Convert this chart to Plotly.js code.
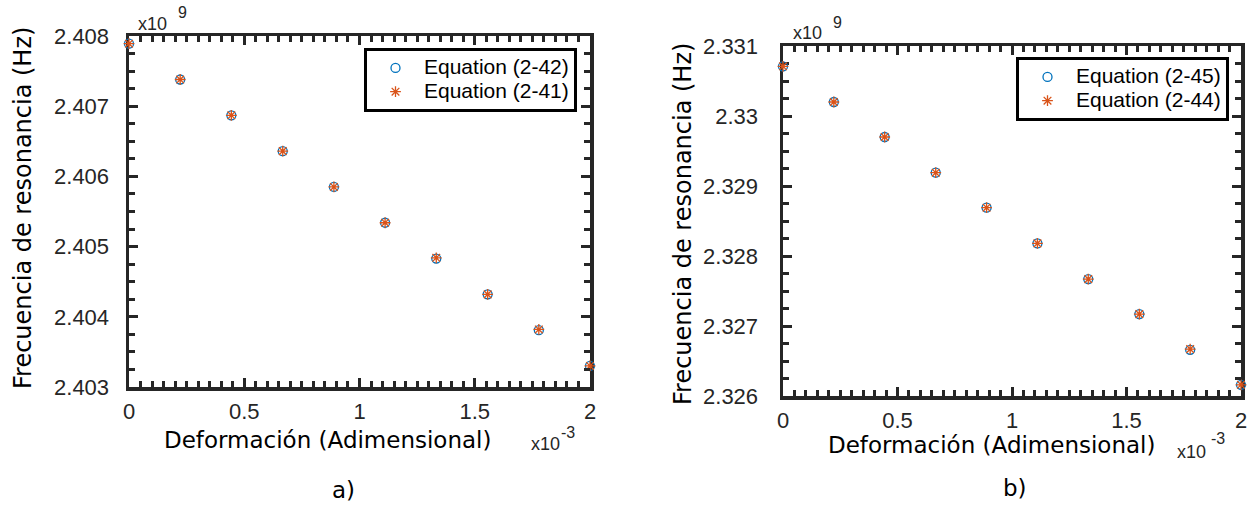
<!DOCTYPE html>
<html>
<head>
<meta charset="utf-8">
<script src="https://cdn.plot.ly/plotly-3.0.1.min.js"></script>
<style>html,body{margin:0;padding:0;background:#fff;}#chart{width:1248px;height:506px;}</style>
</head>
<body>
<div id="chart"></div>
<script>
// Strain (dimensionless) — same for both panels
const strain = [0, 0.000222, 0.000444, 0.000667, 0.000889, 0.001111, 0.001333, 0.001556, 0.001778, 0.002];
// Panel a) resonance frequency (Hz)
const freqA_242 = [2.40789e9, 2.40738e9, 2.40687e9, 2.40636e9, 2.40585e9, 2.40534e9, 2.40483e9, 2.40432e9, 2.40381e9, 2.40330e9];
const freqA_241 = [2.40789e9, 2.40738e9, 2.40687e9, 2.40636e9, 2.40585e9, 2.40534e9, 2.40484e9, 2.40432e9, 2.40382e9, 2.40330e9];
// Panel b) resonance frequency (Hz)
const freqB_245 = [2.33071e9, 2.33020e9, 2.32970e9, 2.32919e9, 2.32869e9, 2.32818e9, 2.32767e9, 2.32717e9, 2.32666e9, 2.32616e9];
const freqB_244 = [2.33071e9, 2.33020e9, 2.32970e9, 2.32919e9, 2.32869e9, 2.32818e9, 2.32767e9, 2.32717e9, 2.32667e9, 2.32616e9];
// Tick labels
const xTickVals = [0, 0.0005, 0.001, 0.0015, 0.002];
const xTickText = ['0', '0.5', '1', '1.5', '2'];
const yTickValsA = [2.403e9, 2.404e9, 2.405e9, 2.406e9, 2.407e9, 2.408e9];
const yTickTextA = ['2.403', '2.404', '2.405', '2.406', '2.407', '2.408'];
const yTickValsB = [2.326e9, 2.327e9, 2.328e9, 2.329e9, 2.33e9, 2.331e9];
const yTickTextB = ['2.326', '2.327', '2.328', '2.329', '2.33', '2.331'];
const legendNames = ['Equation (2-42)', 'Equation (2-41)', 'Equation (2-45)', 'Equation (2-44)'];

const W = 1248, H = 506;
const BLUE = '#0072BD', ORANGE = '#D95319', FRAME = '#262626';
const px = v => v / W, py = v => 1 - v / H;
const legText = s => '<span style="font-size:21px">' + s + '</span>';

function circ(x, y, name, xa, ya, leg) {
  return {x, y, name: legText(name), xaxis: xa, yaxis: ya, legend: leg, type: 'scatter', mode: 'markers', cliponaxis: false,
    marker: {symbol: 'circle-open', size: 9, color: BLUE, line: {color: BLUE, width: 1.3}}};
}
function star(x, y, name, xa, ya, leg) {
  return {x, y, name: legText(name), xaxis: xa, yaxis: ya, legend: leg, type: 'scatter', mode: 'markers', cliponaxis: false,
    marker: {symbol: 'asterisk-open', size: 9, color: ORANGE, line: {color: ORANGE, width: 1.3}}};
}
// empty helper traces so the mirrored tick axes (top / right) get drawn
function holder(xa, ya) {
  return {x: [], y: [], xaxis: xa, yaxis: ya, type: 'scatter', mode: 'markers', showlegend: false, hoverinfo: 'skip'};
}

const traces = [
  holder('x3', 'y3'),
  holder('x4', 'y4'),
  circ(strain, freqA_242, legendNames[0], 'x', 'y', 'legend'),
  star(strain, freqA_241, legendNames[1], 'x', 'y', 'legend'),
  circ(strain, freqB_245, legendNames[2], 'x2', 'y2', 'legend2'),
  star(strain, freqB_244, legendNames[3], 'x2', 'y2', 'legend2')
];

const tickFont = {family: 'Liberation Sans, Arial, sans-serif', size: 22, color: '#262626'};
const MAJ = {ticks: 'inside', ticklen: 9, tickwidth: 3, tickcolor: FRAME};
const xMinor = {dtick: 0.00005, tick0: 0, ticks: 'inside', ticklen: 6, tickwidth: 3, tickcolor: FRAME, showgrid: false};
function yMinor(vals) {
  return {dtick: 2.5e5, tick0: vals[0], ticks: 'inside', ticklen: 6, tickwidth: 3, tickcolor: FRAME, showgrid: false};
}
function xAxis(domain, anchor) {
  return Object.assign({domain, anchor, range: [0, 0.002], tickvals: xTickVals, ticktext: xTickText, minor: xMinor,
    showline: true, linewidth: 3.5, linecolor: FRAME, mirror: true, showgrid: false, zeroline: false,
    tickfont: tickFont, ticklabelstandoff: 2, layer: 'below traces'}, MAJ);
}
function yAxis(domain, anchor, vals, text, standoff) {
  return Object.assign({domain, anchor, range: [vals[0], vals[vals.length - 1]], tickvals: vals, ticktext: text, minor: yMinor(vals),
    showline: true, linewidth: 3.5, linecolor: FRAME, mirror: true, showgrid: false, zeroline: false,
    tickfont: tickFont, ticklabelstandoff: standoff, layer: 'below traces'}, MAJ);
}
function xTop(over, anchor) {
  return Object.assign({overlaying: over, anchor, side: 'top', range: [0, 0.002], tickvals: xTickVals, minor: xMinor,
    showticklabels: false, showline: false, showgrid: false, zeroline: false}, MAJ);
}
function yRight(over, anchor, vals) {
  return Object.assign({overlaying: over, anchor, side: 'right', range: [vals[0], vals[vals.length - 1]], tickvals: vals,
    minor: yMinor(vals), showticklabels: false, showline: false, showgrid: false, zeroline: false}, MAJ);
}

const titleFont = {family: 'DejaVu Sans, sans-serif', size: 23, color: '#000'};
const yTitleFont = {family: 'DejaVu Sans, sans-serif', size: 24, color: '#000'};
const smallFont = {family: 'Liberation Sans, Arial, sans-serif', size: 18, color: '#262626'};
const supFont = {family: 'Liberation Sans, Arial, sans-serif', size: 16, color: '#262626'};
const legendFont = {family: 'Liberation Sans, Arial, sans-serif', size: 16, color: '#000'};

function ann(text, x, y, font, extra) {
  return Object.assign({text, x: px(x), y: py(y), xref: 'paper', yref: 'paper', showarrow: false,
    font, xanchor: 'center', yanchor: 'middle'}, extra || {});
}

const layout = {
  width: W, height: H, margin: {l: 0, r: 0, t: 0, b: 0},
  paper_bgcolor: '#fff', plot_bgcolor: '#fff',
  showlegend: true,
  xaxis: xAxis([px(129), px(590)], 'y'),
  yaxis: yAxis([py(387), py(36)], 'x', yTickValsA, yTickTextA, 12),
  xaxis3: xTop('x', 'y3'),
  yaxis3: yRight('y', 'x3', yTickValsA),
  xaxis2: xAxis([px(783), px(1241)], 'y2'),
  yaxis2: yAxis([py(396), py(46)], 'x2', yTickValsB, yTickTextB, 17),
  xaxis4: xTop('x2', 'y4'),
  yaxis4: yRight('y2', 'x4', yTickValsB),
  legend: {x: px(577), y: py(48), xanchor: 'right', yanchor: 'top', bgcolor: '#fff',
    bordercolor: '#000', borderwidth: 3, font: legendFont, tracegroupgap: 0, itemwidth: 47},
  legend2: {x: px(1229), y: py(57), xanchor: 'right', yanchor: 'top', bgcolor: '#fff',
    bordercolor: '#000', borderwidth: 3, font: legendFont, tracegroupgap: 0, itemwidth: 47},
  annotations: [
    ann('Frecuencia de resonancia (Hz)', 23, 208, yTitleFont, {textangle: -90}),
    ann('Frecuencia de resonancia (Hz)', 683, 224, yTitleFont, {textangle: -90}),
    ann('Deformación (Adimensional)', 327, 440, titleFont),
    ann('Deformación (Adimensional)', 991, 445, titleFont),
    ann('a)', 343, 490, titleFont),
    ann('b)', 1015, 488, titleFont),
    ann('x10', 152, 24, smallFont),
    ann('9', 182, 13, supFont),
    ann('x10', 807, 33, smallFont),
    ann('9', 838, 23, supFont),
    ann('x10', 545, 444, smallFont),
    ann('-3', 568, 432, supFont),
    ann('x10', 1191, 452, smallFont),
    ann('-3', 1218, 438, supFont)
  ]
};

Plotly.newPlot('chart', traces, layout, {staticPlot: true, displayModeBar: false});
</script>
</body>
</html>
